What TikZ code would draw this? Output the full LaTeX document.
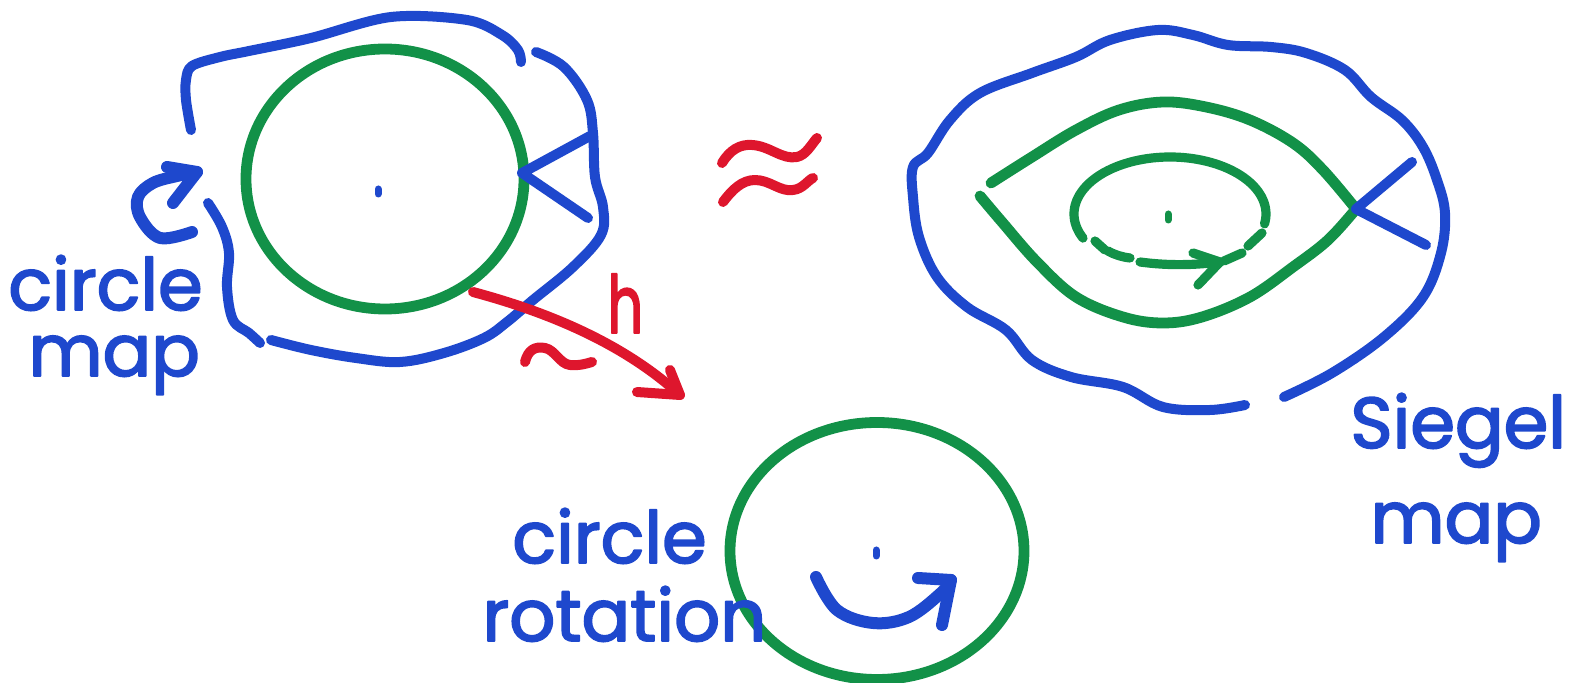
\documentclass[tikz,border=0pt]{standalone}
\usepackage{fontspec}
\setmainfont{Poppins}
\newfontfamily\handfont{Poppins}[FakeBold=2.5]
\usetikzlibrary{calc,shapes.geometric}
\definecolor{mblue}{RGB}{30,72,205}
\definecolor{mgreen}{RGB}{18,145,72}
\definecolor{mred}{RGB}{222,22,45}
\begin{document}
\begin{tikzpicture}[x=0.5pt,y=-0.5pt,line cap=round,line join=round,
  bluel/.style={draw=mblue,line width=5pt},
  greenl/.style={draw=mgreen,line width=5.4pt},
  redl/.style={draw=mred,line width=5pt},
  handtext/.style={text=mblue,font=\handfont\fontsize{36}{40}\selectfont,inner sep=0pt,anchor=base west,text height=0.74em,text depth=0pt},
  dotmark/.style={line width=3.5pt}]
\useasboundingbox (0,0) rectangle (1571,683);
% ---------------- left: circle map ----------------
\node[ellipse,greenl,minimum width=139pt,minimum height=130pt,inner sep=0pt] (lcirc) at (385,179) {};
\draw[mblue,dotmark] (378,189) -- (378,194);
% outer blue boundary (three pieces)
\draw[bluel] plot[smooth,tension=0.55] coordinates {(191,130) (186,100) (186,80) (192,66) (220,57) (249,51) (311,38) (391,17) (467,20) (502,35) (518,50) (521,62)};
\draw[bluel] plot[smooth,tension=0.6] coordinates {(536,52) (564,67) (587,100) (593,133) (595,177) (603,207) (601,235) (573,267) (533,300) (507,322) (484,338) (444,353) (400,362) (356,358) (311,350) (271,340)};
\draw[bluel] plot[smooth,tension=0.6] coordinates {(208,203) (222,227) (229,253) (227,287) (233,320) (249,333) (260,343)};
% blue V at the circle
\coordinate (lv) at (522,173);
\coordinate (lva) at (590,136);
\coordinate (lvb) at (588,218);
\draw[bluel,line width=5pt] (lva) -- (lv) -- (lvb);
% curly arrow
\coordinate (ctip) at (197,172);
\draw[bluel,line width=6pt] plot[smooth,tension=0.6] coordinates {(192,232) (160,238) (140,217) (138,197) (153,183) (177,176) (197,172)};
\draw[bluel,line width=6pt] ($(ctip)+(-30,-5)$) -- (ctip) -- ($(ctip)+(-24,31)$);
\node[handtext] (lcircle) at (8,310) {circle};
\node[handtext,text height=0.56em,text depth=0.22em] (lmap) at (28,376) {map};
% ---------------- red arrow h ----------------
\coordinate (hs) at (473,292);
\coordinate (he) at (680,395);
\draw[redl] (hs) .. controls (540,310) and (620,340) .. (he);
\draw[redl] ($(he)+(-43,-3)$) -- (he) -- ($(he)+(-10,-25)$);
\node[text=mred,font=\handfont\fontsize{40}{40}\selectfont,inner sep=0pt,anchor=base west] (hlab) at (607,333) {\scalebox{0.7}[1]{h}};
\draw[redl] (525,362) .. controls (528,350) and (535,346) .. (545,348) .. controls (555,350) and (560,364) .. (570,365) .. controls (578,366) and (585,364) .. (592,362);
% red approx sign
\draw[redl] (722,163) .. controls (730,150) and (740,144) .. (752,145) .. controls (770,146) and (782,160) .. (797,157) .. controls (806,155) and (811,145) .. (817,138);
\draw[redl] (723,202) .. controls (732,190) and (742,180) .. (755,180) .. controls (770,180) and (780,192) .. (793,190) .. controls (803,189) and (808,180) .. (813,178);
% ---------------- right: Siegel map ----------------
\draw[bluel] plot[smooth,tension=0.6] coordinates {(1245,405) (1210,410) (1163,407) (1123,387) (1071,377) (1032,360) (1006,330) (967,307) (937,277) (919,237) (913,197) (913,167) (928,153) (950,120) (980,93) (1032,73) (1076,57) (1110,40) (1158,30) (1193,35) (1228,45) (1271,47) (1306,53) (1345,70) (1371,97) (1402,120) (1423,147) (1437,180) (1445,213) (1441,253) (1423,297) (1384,337) (1332,373) (1284,397)};
\coordinate (rv) at (1356,209);
\draw[greenl] plot[smooth,tension=0.6] coordinates {(991,183) (1032,157) (1076,130) (1119,110) (1163,102) (1206,107) (1250,120) (1293,143) (1323,170) (1356,209)};
\draw[greenl] plot[smooth,tension=0.6] coordinates {(980,196) (1002,222) (1037,262) (1076,297) (1123,317) (1163,323) (1202,317) (1250,297) (1293,267) (1328,240) (1356,209)};
\coordinate (rva) at (1412,162);
\coordinate (rvb) at (1426,245);
\draw[bluel,line width=5pt] (rva) -- (rv) -- (rvb);
% inner orbit
\draw[greenl,line width=4.6pt] plot[smooth,domain=-10:205,samples=40,variable=\t] ({1170+96*cos(\t)},{214-57*sin(\t)});
\draw[greenl,line width=4.6pt] (1095,241) -- (1105,250);
\draw[greenl,line width=4.6pt] (1108,251) .. controls (1115,255) and (1122,257) .. (1130,258);
\coordinate (itip) at (1220,262);
\draw[greenl,line width=4.6pt] (1140,262) .. controls (1170,266) and (1195,265) .. (itip);
\draw[greenl,line width=4.6pt] ($(itip)+(-27,-9)$) -- (itip) -- ($(itip)+(-22,23)$);
\draw[greenl,line width=4.6pt] (1224,261) -- (1242,253);
\draw[greenl,line width=4.6pt] (1248,246) -- (1262,233);
\draw[mgreen,dotmark] (1168,214) -- (1168,220);
\node[handtext,text depth=0.22em] (siegel) at (1350,448) {Siegel};
\node[handtext,text height=0.56em,text depth=0.22em] (rmap) at (1370,543) {map};
% ---------------- bottom: circle rotation ----------------
\node[ellipse,greenl,minimum width=147pt,minimum height=128.5pt,inner sep=0pt] (bcirc) at (877,551) {};
\draw[mblue,dotmark] (876,550) -- (876,556);
\coordinate (btip) at (951,580);
\draw[bluel,line width=6pt] plot[smooth,tension=0.6] coordinates {(816,577) (837,610) (873,623) (909,617) (941,593) (951,580)};
\draw[bluel,line width=6pt] ($(btip)+(-33,-2)$) -- (btip) -- ($(btip)+(-9,45)$);
\node[handtext] (bcircle) at (512,563) {circle};
\node[handtext,text height=0.68em] (brot) at (482,641) {rotation};
\end{tikzpicture}
\end{document}
